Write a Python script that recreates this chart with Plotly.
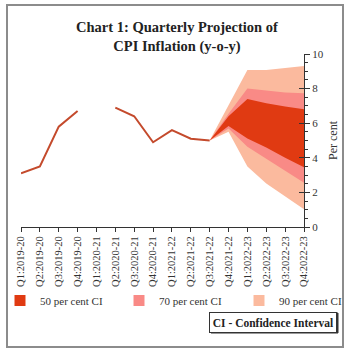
import plotly.graph_objects as go

categories = ["Q1:2019-20", "Q2:2019-20", "Q3:2019-20", "Q4:2019-20",
              "Q1:2020-21", "Q2:2020-21", "Q3:2020-21", "Q4:2020-21",
              "Q1:2021-22", "Q2:2021-22", "Q3:2021-22", "Q4:2021-22",
              "Q1:2022-23", "Q2:2022-23", "Q3:2022-23", "Q4:2022-23"]
actual = [3.1, 3.5, 5.8, 6.7, None, 6.9, 6.4, 4.9, 5.6, 5.1, 5.0]

fan_start = 10
upper90 = [5.0, 7.05, 9.07, 9.07, 9.17, 9.3]
upper70 = [5.0, 6.55, 8.0, 7.88, 7.77, 7.73]
upper50 = [5.0, 6.4, 7.4, 7.15, 6.96, 6.8]
lower50 = [5.0, 5.84, 5.12, 4.6, 4.0, 3.45]
lower70 = [5.0, 5.7, 4.64, 3.95, 3.25, 2.56]
lower90 = [5.0, 5.5, 3.49, 2.52, 1.75, 1.02]

legend_names = ["50 per cent CI", "70 per cent CI", "90 per cent CI"]

C50, C70, C90 = "#E03A12", "#F98A86", "#FBBA9E"
LINE = "#C44A2C"
FONT = "Liberation Serif"

idx = list(range(len(categories)))
fan_x = idx[fan_start:]

fig = go.Figure()

def band(lo, hi, color):
    fig.add_trace(go.Scatter(
        x=fan_x + fan_x[::-1], y=hi + lo[::-1], fill="toself",
        fillcolor=color, line=dict(width=0), mode="lines",
        hoverinfo="skip", showlegend=False))

band(lower90, upper90, C90)
band(lower70, upper70, C70)
band(lower50, upper50, C50)

fig.add_trace(go.Scatter(x=idx[:len(actual)], y=actual, mode="lines",
                         line=dict(color=LINE, width=2), showlegend=False,
                         connectgaps=False))

L, R, T, B = 21, 45, 54, 125
W, H = 349, 352
pw, ph = W - L - R, H - T - B

legend_ids = ["legend", "legend2", "legend3"]
legend_px = [0, 119, 239]
for name, col, lid in zip(legend_names, [C50, C70, C90], legend_ids):
    fig.add_trace(go.Scatter(x=[None], y=[None], mode="markers", name=name,
                             legend=lid,
                             marker=dict(symbol="square", size=11, color=col)))

# phantom trace for overlay axis
fig.add_trace(go.Scatter(x=[None], y=[None], yaxis="y2", showlegend=False))

legend_y = (H - B - 286) / ph
leg_common = dict(orientation="h", xanchor="left", y=legend_y, yanchor="top",
                  font=dict(size=11, color="#333"), itemclick=False,
                  bgcolor="rgba(0,0,0,0)")

fig.update_layout(
    width=W, height=H,
    margin=dict(l=L, r=R, t=T, b=B, autoexpand=False),
    paper_bgcolor="white", plot_bgcolor="white",
    font=dict(family=FONT, size=11, color="#222"),
    title=dict(text="<b>Chart 1: Quarterly Projection of<br>CPI Inflation (y-o-y)</b>",
               x=0.507, xanchor="center", y=1 - 32 / H, yanchor="top",
               yref="container",
               font=dict(family=FONT, size=14.5, color="#222")),
    xaxis=dict(range=[0, 15], tickmode="array", tickvals=idx, ticktext=categories,
               tickangle=-90, ticks="outside", ticklen=4, tickcolor="#333",
               showline=True, linecolor="#333", linewidth=1, showgrid=False,
               zeroline=False, tickfont=dict(size=10.5, color="#333")),
    yaxis=dict(range=[0, 10], side="right", dtick=2, ticks="outside", ticklen=5,
               tickcolor="#333", showline=True, linecolor="#333", linewidth=1,
               showgrid=False, zeroline=False, tickfont=dict(size=11, color="#333"),
               minor=dict(dtick=0.5, ticks="outside", ticklen=3, tickcolor="#333"),
               title=dict(text="Per cent", font=dict(size=12, color="#333"), standoff=5)),
    yaxis2=dict(range=[0, 10], overlaying="y", side="right", dtick=2, ticks="inside",
                ticklen=5, tickcolor="#333", showticklabels=False, showgrid=False,
                zeroline=False, showline=False),
    legend=dict(x=(legend_px[0] - L) / pw, **leg_common),
    legend2=dict(x=(legend_px[1] - L) / pw, **leg_common),
    legend3=dict(x=(legend_px[2] - L) / pw, **leg_common),
    showlegend=True,
)

# outer frame
fig.add_shape(type="rect", xref="paper", yref="paper",
              x0=(7 - L) / pw, x1=(343 - L) / pw,
              y0=(H - B - 347) / ph, y1=(H - B - 5) / ph,
              line=dict(color="#8c8c8c", width=2), fillcolor="rgba(0,0,0,0)", layer="below")

# CI box shadow + box
fig.add_shape(type="rect", xref="paper", yref="paper",
              x0=(211 - L) / pw, x1=(338 - L) / pw,
              y0=(H - B - 333) / ph, y1=(H - B - 313) / ph,
              line=dict(color="#333", width=1), fillcolor="#333")
fig.add_annotation(text="<b>CI - Confidence Interval</b>", xref="paper", yref="paper",
                   x=(209 - L) / pw, xanchor="left", y=(H - B - 312) / ph, yanchor="top",
                   showarrow=False, bgcolor="white", bordercolor="#333", borderwidth=1,
                   borderpad=2, width=122, height=15,
                   font=dict(family=FONT, size=11.5, color="#222"))

fig.write_html("out.html")
